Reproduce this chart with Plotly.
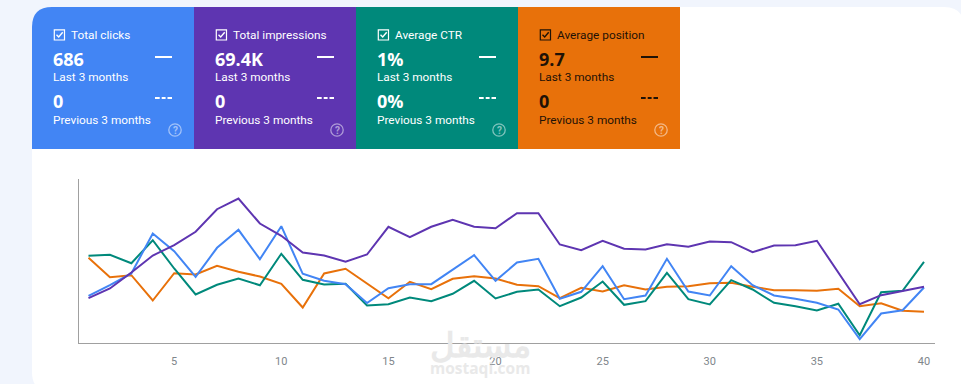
import plotly.graph_objects as go

W, H = 961, 384

# Series values: height above the axis, in chart units
days = list(range(1, 41))
clicks = [46.7, 57.3, 69, 109, 91.3, 65.7, 94.7, 112.7, 83.3, 116.3, 68.7, 61.7, 58.3, 39.5, 54.3, 58.3, 58.3, 73, 87.3, 61.7, 80, 83.7, 43.7, 50.7, 76.3, 43.3, 47, 83.7, 51, 47, 76.3, 57.3, 47, 43.7, 39.7, 33, 3.3, 29, 32.3, 55]
impressions = [44.3, 54, 70, 87, 97.3, 110.7, 133.3, 144, 119, 106.7, 90, 87, 80.7, 88, 115.7, 105.3, 115.7, 122.7, 115.7, 114.3, 129.3, 129.3, 98, 92.3, 101.7, 93.7, 93, 98.3, 95.7, 101, 100.3, 90.3, 97, 97.3, 101.7, 69.7, 38.3, 47.3, 51.3, 55.7]
ctr = [86.7, 87.7, 79.3, 102.3, 74, 48, 57.7, 64, 57.3, 88.7, 62.7, 58, 58.7, 37, 38.3, 45, 41.3, 48.7, 61.7, 44, 50.7, 53, 36.3, 45, 61, 37.7, 41.3, 69.7, 43.3, 38, 62.3, 53, 39.7, 36.3, 32, 38.7, 7.3, 50.3, 51.7, 80.7]
position = [84.7, 65.3, 67.3, 42, 69.3, 68, 76.7, 70.7, 66, 58.7, 35, 69, 73.7, 59, 44.3, 60.7, 53.3, 63.7, 66.3, 64, 57.7, 56.3, 44.3, 54.7, 51, 57.3, 53, 55.7, 56.3, 59.3, 59.7, 55.7, 52.3, 52.3, 51.7, 53.7, 36.3, 39.3, 31.7, 30.7]
x_ticks = [5, 10, 15, 20, 25, 30, 35, 40]

metric_names = ["Total clicks", "Total impressions", "Average CTR", "Average position"]
last_values = ["686", "69.4K", "1%", "9.7"]
prev_values = ["0", "0", "0%", "0"]
card_colors = ["#4285f4", "#5e35b1", "#00897b", "#e8710a"]
line_colors = ["#4285f4", "#5e35b1", "#00897b", "#e8710a"]
ink_colors = ["#ffffff", "#ffffff", "#ffffff", "#1f1206"]
series = [position, ctr, clicks, impressions]
series_colors = [line_colors[3], line_colors[2], line_colors[0], line_colors[1]]

def px(v):
    return v / W

def py(v):
    return 1 - v / H

shapes = []
annotations = []

def seg(x0, y0, x1, y1, color, width=1.5, dash="solid", opacity=1):
    shapes.append(dict(type="line", xref="paper", yref="paper", x0=px(x0), x1=px(x1), y0=py(y0), y1=py(y1),
                       line=dict(color=color, width=width, dash=dash), opacity=opacity, layer="above"))

def text(x, y, s, size, color, family="Roboto", bold=False, anchor="left", opacity=1):
    annotations.append(dict(xref="paper", yref="paper", x=px(x), y=py(y), text=f"<b>{s}</b>" if bold else s,
                            showarrow=False, xanchor=anchor, yanchor="middle", opacity=opacity,
                            font=dict(size=size, color=color, family=family), borderpad=0, borderwidth=0))

def rounded_path(x0, y0, x1, y1, tl=0, tr=0, br=0, bl=0, fill="#ffffff", layer="below"):
    X, Y = px, py
    d = f"M {X(x0 + tl)} {Y(y0)} L {X(x1 - tr)} {Y(y0)} "
    if tr:
        d += f"Q {X(x1)} {Y(y0)} {X(x1)} {Y(y0 + tr)} "
    d += f"L {X(x1)} {Y(y1 - br)} "
    if br:
        d += f"Q {X(x1)} {Y(y1)} {X(x1 - br)} {Y(y1)} "
    d += f"L {X(x0 + bl)} {Y(y1)} "
    if bl:
        d += f"Q {X(x0)} {Y(y1)} {X(x0)} {Y(y1 - bl)} "
    d += f"L {X(x0)} {Y(y0 + tl)} "
    if tl:
        d += f"Q {X(x0)} {Y(y0)} {X(x0 + tl)} {Y(y0)} "
    d += "Z"
    shapes.append(dict(type="path", xref="paper", yref="paper", path=d, fillcolor=fill,
                       line=dict(width=0), layer=layer))

# Page panel
rounded_path(32, 7, 964, 392, tl=20, tr=20, bl=20, fill="#ffffff")

# Metric cards
card_x = [32, 194, 356, 518]
card_w = 162
for i, name in enumerate(metric_names):
    x0 = card_x[i]
    ink = ink_colors[i]
    rounded_path(x0, 7, x0 + card_w, 149, tl=20 if i == 0 else 0, fill=card_colors[i])
    left = x0 + 22
    # checkbox
    shapes.append(dict(type="rect", xref="paper", yref="paper", x0=px(left + 0.3), x1=px(left + 10.5),
                       y0=py(40), y1=py(29.8), fillcolor="rgba(0,0,0,0)",
                       line=dict(color=ink, width=1.2), layer="above"))
    shapes.append(dict(type="path", xref="paper", yref="paper",
                       path=f"M {px(left+2.5)} {py(34.8)} L {px(left+4.7)} {py(37)} L {px(left+8.7)} {py(32.3)}",
                       line=dict(color=ink, width=1.4), layer="above"))
    text(left + 17, 34.5, name, 11.8, ink)
    text(left - 0.6, 59.5, last_values[i], 18, ink, family="Open Sans", bold=True)
    text(left - 1.2, 77.5, "Last 3 months", 11.8, ink)
    text(left - 0.6, 100.5, prev_values[i], 18, ink, family="Open Sans", bold=True)
    text(left - 1.2, 119.5, "Previous 3 months", 11.8, ink)
    # trend markers
    seg(x0 + 123, 57, x0 + 140, 57, ink, 2)
    seg(x0 + 123, 98, x0 + 127.7, 98, ink, 2)
    seg(x0 + 129.7, 98, x0 + 133.6, 98, ink, 2)
    seg(x0 + 135.5, 98, x0 + 140, 98, ink, 2)
    # help icon
    hx, hy = x0 + 143, 130
    shapes.append(dict(type="circle", xref="paper", yref="paper", x0=px(hx - 6.2), x1=px(hx + 6.2),
                       y0=py(hy + 6.2), y1=py(hy - 6.2), fillcolor="rgba(0,0,0,0)",
                       line=dict(color="#ffffff", width=1.3), opacity=0.5, layer="above"))
    text(hx, hy, "?", 10, "#ffffff", bold=True, anchor="center", opacity=0.5)

# Watermark
text(480, 344, "مستقل", 34, "#e9e9e9", family="Noto Sans", bold=True, anchor="center")
text(480, 367.5, "mostaqi.com", 15.5, "#e9e9e9", family="Open Sans", bold=True, anchor="center")

fig = go.Figure()
for vals, color in zip(series, series_colors):
    fig.add_trace(go.Scatter(x=days, y=vals, mode="lines", line=dict(color=color, width=2),
                             showlegend=False, hoverinfo="skip"))

plot_left, plot_right, plot_top, plot_bottom = 78.5, 935, 179, 342.5
fig.update_layout(
    width=W, height=H, margin=dict(l=0, r=0, t=0, b=0),
    paper_bgcolor="#f1f5fd", plot_bgcolor="rgba(0,0,0,0)",
    shapes=shapes, annotations=annotations,
    font=dict(family="Roboto"),
    xaxis=dict(domain=[px(plot_left), px(plot_right)],
               range=[1 - (88.5 - plot_left) / 21.42, 40 + (plot_right - 924) / 21.42],
               tickmode="array", tickvals=x_ticks, ticks="", showgrid=False, zeroline=False,
               showline=True, linecolor="#a0a0a0", linewidth=1,
               tickfont=dict(size=11, color="#80868b", family="Roboto"), ticklabelstandoff=8),
    yaxis=dict(domain=[py(plot_bottom), py(plot_top)], range=[0, plot_bottom - plot_top],
               showticklabels=False, ticks="", showgrid=False, zeroline=False,
               showline=True, linecolor="#a0a0a0", linewidth=1),
)

fig.write_html("out.html", config={"displayModeBar": False},
               post_script="document.body.style.margin='0';document.documentElement.style.overflow='hidden';window.dispatchEvent(new Event('resize'));")
